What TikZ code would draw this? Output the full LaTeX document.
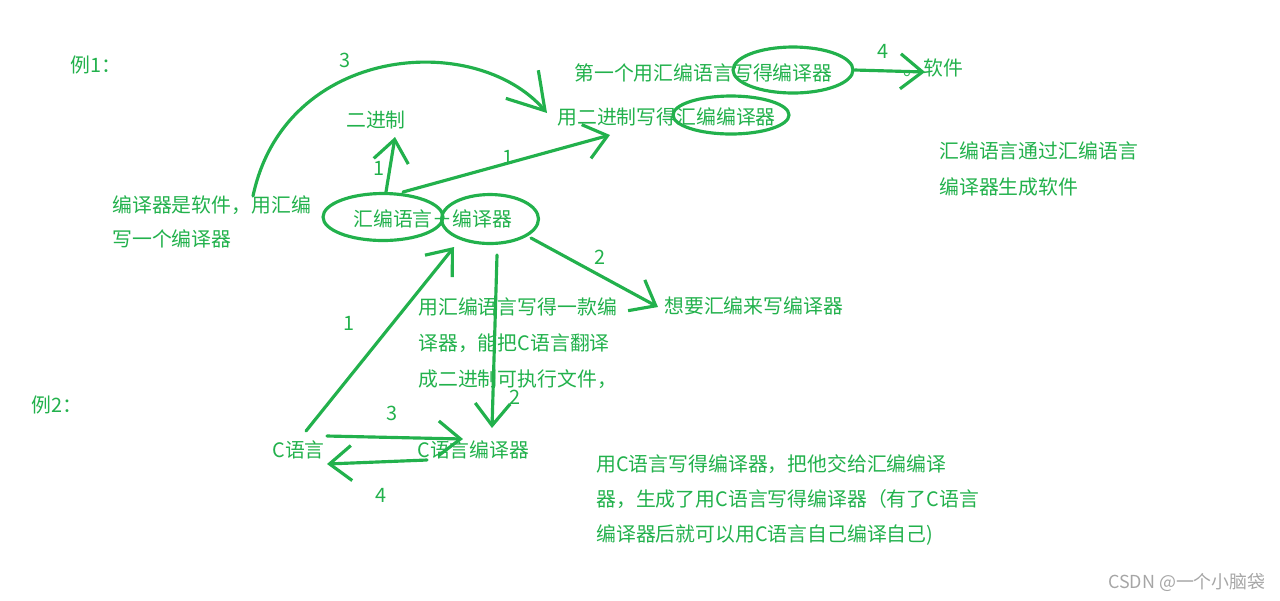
\documentclass[tikz,border=0pt]{standalone}
\usepackage{fontspec}
\setmainfont{Noto Sans CJK SC}
\usetikzlibrary{arrows.meta,shapes.geometric}
\definecolor{pgreen}{RGB}{34,177,76}

\begin{document}
\begin{tikzpicture}[x=0.02cm,y=-0.02cm,
  every node/.style={text=pgreen,inner sep=0pt,font=\fontsize{11.3pt}{20.4pt}\selectfont},
  txt/.style={anchor=west,align=left},
  ring/.style={draw=pgreen,line width=1.8pt,ellipse},
  arr/.style={draw=pgreen,line width=1.8pt,line cap=round,line join=round,-{Straight Barb[length=0.44cm,width=0.7cm]}},
  bigarr/.style={arr,-{Straight Barb[length=0.7cm,width=0.86cm]}}]
  \useasboundingbox (0,0) rectangle (1280,600);

  % example 1
  \node[txt] (lia1) at (70,65) {例1：};
  \node[txt,font=\fontsize{11.3pt}{19.3pt}\selectfont] (intro) at (112,222) {编译器是软件，用汇编\\写一个编译器};
  \node (bin) at (376,120) {二进制};
  \node[txt] (first) at (574,73) {第一个用汇编语言写得编译器};
  \node[txt] (soft) at (903,68) {。软件};
  \node[txt] (binw) at (557,117) {用二进制写得汇编编译器};
  \node[txt] (src) at (353,219) {汇编语言＋编译器};
  \node[txt] (want) at (664,306) {想要汇编来写编译器};
  \node[txt] (note) at (418,343) {用汇编语言写得一款编\\译器，能把C语言翻译\\成二进制可执行文件，};
  \node[txt] (summ) at (939,169) {汇编语言通过汇编语言\\编译器生成软件};

  \node[ring,minimum width=2.4cm,minimum height=0.92cm] (e1) at (793,70) {};
  \node[ring,minimum width=2.32cm,minimum height=0.76cm] (e2) at (731,115) {};
  \node[ring,minimum width=2.4cm,minimum height=0.94cm] (eL) at (383,217) {};
  \node[ring,minimum width=1.94cm,minimum height=0.98cm] (eR) at (490,219) {};

  \draw[arr] ([shift={(3,0)}]eL.north) -- ([shift={(19,17)}]bin.center);
  \node (nA) at (379,168) {1};
  \draw[arr] ([shift={(20,-25)}]eL.center) -- ([shift={(53,18)}]binw.west);
  \node (nB) at (508,157) {1};
  \draw[bigarr] ([shift={(141,-26)}]intro.west) .. controls (285,45) and (475,30) .. ([shift={(-10,-4)}]binw.west);
  \node (nC) at (345,60) {3};
  \draw[arr] (e1.east) -- ([shift={(22,4)}]soft.west);
  \node (nD) at (883,51) {4};
  \draw[arr] ([shift={(41,19)}]eR.center) -- ([shift={(-6,1)}]want.west);
  \node (nE) at (600,257) {2};

  % example 2
  \node[txt] (lia2) at (31,405) {例2：};
  \node[txt] (cl) at (272,450) {C语言};
  \node[txt] (cc) at (417,450) {C语言编译器};
  \node[txt,font=\fontsize{11.3pt}{19.9pt}\selectfont] (fin) at (596,500) {用C语言写得编译器，把他交给汇编编译\\器，生成了用C语言写得编译器（有了C语言\\编译器后就可以用C语言自己编译自己)};

  \draw[arr] ([shift={(34,-19)}]cl.west) -- ([shift={(-36,28)}]eR.center);
  \node (nF) at (349,323) {1};
  \draw[arr] ([shift={(7,36)}]eR.center) -- ([shift={(75,-22)}]cc.west);
  \node (nG) at (515,397) {2};
  \draw[arr] ([shift={(55,-14)}]cl.west) -- ([shift={(46,-11)}]cc.west);
  \node (nH) at (392,413) {3};
  \draw[arr] ([shift={(10,10)}]cc.west) -- ([shift={(55,14)}]cl.west);
  \node (nI) at (381,495) {4};

  \node[anchor=east,text=black!35,font=\fontsize{10.2pt}{12pt}\selectfont] (csdn) at (1266,582) {CSDN @一个小脑袋};
\end{tikzpicture}
\end{document}
